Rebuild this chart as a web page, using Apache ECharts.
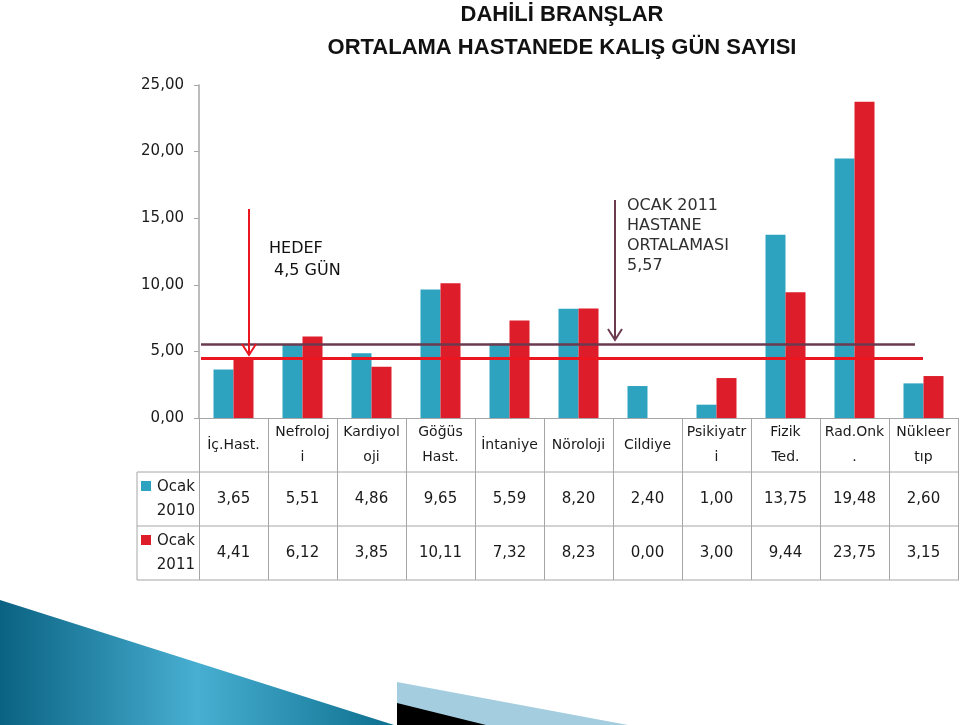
<!DOCTYPE html>
<html>
<head>
<meta charset="utf-8">
<script src="https://cdn.jsdelivr.net/npm/echarts@6/dist/echarts.min.js"></script>
<style>html,body{margin:0;padding:0;background:#fff;}#c{width:960px;height:725px;}</style>
</head>
<body>
<div id="c"></div>
<script>
var categories = ['İç.Hast.', 'Nefroloj\ni', 'Kardiyol\noji', 'Göğüs\nHast.', 'İntaniye', 'Nöroloji', 'Cildiye', 'Psikiyatr\ni', 'Fizik\nTed.', 'Rad.Onk\n.', 'Nükleer\ntıp'];
var vals2010 = [3.65, 5.51, 4.86, 9.65, 5.59, 8.20, 2.40, 1.00, 13.75, 19.48, 2.60];
var vals2011 = [4.41, 6.12, 3.85, 10.11, 7.32, 8.23, 0.00, 3.00, 9.44, 23.75, 3.15];
var seriesNames = ['Ocak 2010', 'Ocak 2011'];
var hedef = 4.5;
var hastaneOrt = 5.57;
var titleLines = ['DAHİLİ BRANŞLAR', 'ORTALAMA HASTANEDE KALIŞ GÜN SAYISI'];

function fmt(v) { return v.toFixed(2).replace('.', ','); }

var FONT = 'DejaVu Sans';
var BLUE = '#2ea3bf', RED = '#dd1e2a', MAROON = '#6b3a4f', TARGET = '#ec1620';
var GRAY = '#a6a6a6';

var chart = echarts.init(document.getElementById('c'), null, {renderer: 'canvas'});

var option = {
  backgroundColor: '#ffffff',
  animation: false,
  grid: {left: 199, right: 2, top: 85, bottom: 307, containLabel: false},
  xAxis: [
    {
      type: 'category', data: categories, position: 'bottom',
      axisLine: {show: true, lineStyle: {color: GRAY, width: 1}},
      axisTick: {show: true, length: 162, lineStyle: {color: GRAY, width: 1}},
      axisLabel: {interval: 0, margin: 27, verticalAlign: 'middle', lineHeight: 25,
        fontFamily: FONT, fontSize: 14, color: '#1a1a1a'}
    },
    {
      type: 'category', data: vals2010.map(fmt), position: 'bottom', offset: 54,
      axisLine: {show: false}, axisTick: {show: false},
      axisLabel: {interval: 0, margin: 27, verticalAlign: 'middle',
        fontFamily: FONT, fontSize: 15, color: '#1a1a1a'}
    },
    {
      type: 'category', data: vals2011.map(fmt), position: 'bottom', offset: 108,
      axisLine: {show: false}, axisTick: {show: false},
      axisLabel: {interval: 0, margin: 27, verticalAlign: 'middle',
        fontFamily: FONT, fontSize: 15, color: '#1a1a1a'}
    }
  ],
  yAxis: {
    type: 'value', min: 0, max: 25, interval: 5,
    axisLine: {show: true, lineStyle: {color: GRAY, width: 1.5}},
    axisTick: {show: true, length: 5, lineStyle: {color: GRAY}},
    splitLine: {show: false},
    axisLabel: {formatter: fmt, margin: 15, fontFamily: FONT, fontSize: 15, color: '#1a1a1a'}
  },
  series: [
    {
      name: seriesNames[0], type: 'bar', data: vals2010, xAxisIndex: 0,
      barWidth: 20, barGap: '0%', itemStyle: {color: BLUE}
    },
    {
      name: seriesNames[1], type: 'bar', data: vals2011, xAxisIndex: 0,
      barWidth: 20, barGap: '0%', itemStyle: {color: RED},
      markLine: {
        silent: true, symbol: ['none', 'none'], label: {show: false},
        data: [
          [{x: 201, yAxis: hastaneOrt, lineStyle: {color: MAROON, width: 2.5, type: 'solid'}}, {x: 915, yAxis: hastaneOrt}],
          [{x: 201, yAxis: hedef, lineStyle: {color: TARGET, width: 3, type: 'solid'}}, {x: 923, yAxis: hedef}]
        ]
      }
    }
  ],
  graphic: [
    // titles
    {type: 'text', left: null, x: 562, y: 15, style: {text: titleLines[0], textAlign: 'center', textVerticalAlign: 'middle',
      font: 'bold 22px "Liberation Sans", Arial, sans-serif', fill: '#111'}},
    {type: 'text', x: 562, y: 48, style: {text: titleLines[1], textAlign: 'center', textVerticalAlign: 'middle',
      font: 'bold 22px "Liberation Sans", Arial, sans-serif', fill: '#111'}},
    // table lines
    {type: 'line', shape: {x1: 137, y1: 472, x2: 959, y2: 472}, style: {stroke: GRAY, lineWidth: 1}, z: 10},
    {type: 'line', shape: {x1: 137, y1: 526, x2: 959, y2: 526}, style: {stroke: GRAY, lineWidth: 1}, z: 10},
    {type: 'line', shape: {x1: 137, y1: 580, x2: 959, y2: 580}, style: {stroke: GRAY, lineWidth: 1}, z: 10},
    {type: 'line', shape: {x1: 137, y1: 472, x2: 137, y2: 580}, style: {stroke: GRAY, lineWidth: 1}, z: 10},
    // row legends
    {type: 'rect', shape: {x: 141, y: 481, width: 10, height: 10}, style: {fill: BLUE}},
    {type: 'text', x: 195, y: 499, style: {text: 'Ocak\n2010', textAlign: 'right', textVerticalAlign: 'middle',
      lineHeight: 24, font: '15px "' + FONT + '"', fill: '#1a1a1a'}},
    {type: 'rect', shape: {x: 141, y: 535, width: 10, height: 10}, style: {fill: RED}},
    {type: 'text', x: 195, y: 553, style: {text: 'Ocak\n2011', textAlign: 'right', textVerticalAlign: 'middle',
      lineHeight: 24, font: '15px "' + FONT + '"', fill: '#1a1a1a'}},
    // annotations
    {type: 'line', shape: {x1: 249, y1: 209, x2: 249, y2: 354}, style: {stroke: TARGET, lineWidth: 2}, z: 20},
    {type: 'polyline', shape: {points: [[242, 344], [249, 355], [256, 344]]}, style: {stroke: TARGET, lineWidth: 2, fill: null}, z: 20},
    {type: 'text', x: 269, y: 260, style: {text: 'HEDEF\n 4,5 GÜN', textAlign: 'left', textVerticalAlign: 'middle',
      lineHeight: 22, font: '16px "' + FONT + '"', fill: '#111'}},
    {type: 'line', shape: {x1: 615, y1: 200, x2: 615, y2: 339}, style: {stroke: MAROON, lineWidth: 2}, z: 20},
    {type: 'polyline', shape: {points: [[608, 329], [615, 340], [622, 329]]}, style: {stroke: MAROON, lineWidth: 2, fill: null}, z: 20},
    {type: 'text', x: 627, y: 236, style: {text: 'OCAK 2011\nHASTANE\nORTALAMASI\n5,57', textAlign: 'left', textVerticalAlign: 'middle',
      lineHeight: 20, font: '16px "' + FONT + '"', fill: '#2f2f2f'}},
    // bottom decorations
    {type: 'polygon', shape: {points: [[0, 600], [394, 725], [0, 725]]}, z: -1,
      style: {fill: {type: 'linear', x: 0, y: 0, x2: 1, y2: 0, colorStops: [
        {offset: 0, color: '#0a6282'}, {offset: 0.5, color: '#48afd2'}, {offset: 1, color: '#0d6f8f'}]}}},
    {type: 'polygon', shape: {points: [[397, 682], [628, 725], [397, 725]]}, z: -1, style: {fill: '#a4cde0'}},
    {type: 'polygon', shape: {points: [[397, 703], [486, 725], [397, 725]]}, z: -1, style: {fill: '#000000'}}
  ]
};
chart.setOption(option);
</script>
</body>
</html>
